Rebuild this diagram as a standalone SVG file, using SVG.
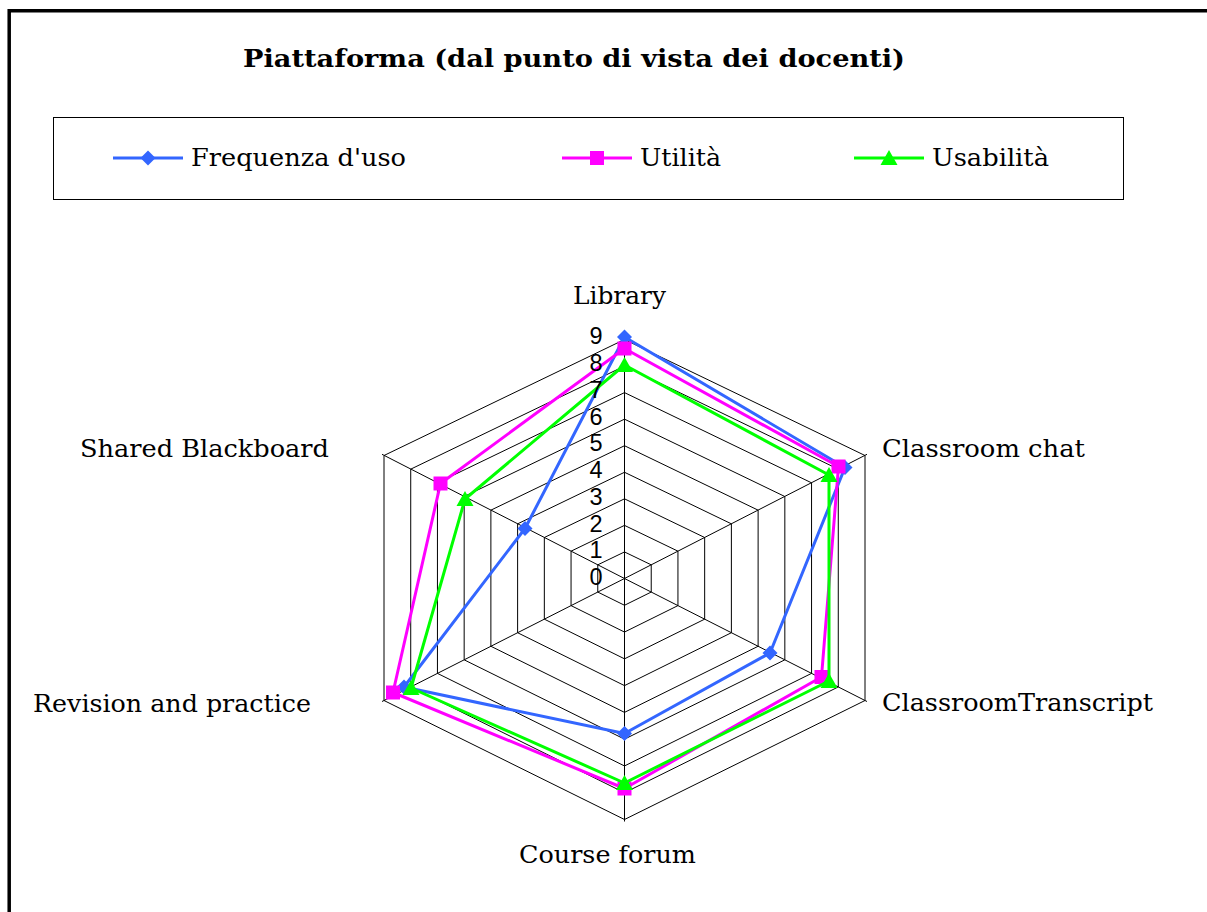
<svg xmlns="http://www.w3.org/2000/svg" xmlns:xlink="http://www.w3.org/1999/xlink" width="1207" height="912" viewBox="0 0 1207 912">
<style>
.ser{font-family:"DejaVu Serif","Liberation Serif",serif;font-size:25px;fill:#000}
.ttl{font-family:"DejaVu Serif","Liberation Serif",serif;font-size:24px;font-weight:bold;fill:#000}
.num{font-family:"Liberation Sans",Arial,sans-serif;font-size:23.5px;fill:#000;text-anchor:end}
.grid{fill:none;stroke:#000;stroke-width:1}
.b{fill:none;stroke:#3366FF;stroke-width:3;stroke-linejoin:round}
.p{fill:none;stroke:#FF00FF;stroke-width:3;stroke-linejoin:round}
.g{fill:none;stroke:#00FF00;stroke-width:3;stroke-linejoin:round}
</style>
<defs>
<path id="dia" d="M0,-7.5 L7.5,0 L0,7.5 L-7.5,0Z" fill="#3366FF"/>
<rect id="sq" x="-7" y="-7" width="14" height="14" fill="#FF00FF"/>
<path id="tri" d="M0,-8 L8.5,7 L-8.5,7Z" fill="#00FF00"/>
</defs>
<rect width="1207" height="912" fill="#fff"/>
<path d="M9.2,912 V10.7 H1207" fill="none" stroke="#000" stroke-width="3.5"/>
<g id="title"><text class="ttl" x="243" y="67" textLength="662" lengthAdjust="spacingAndGlyphs">Piattaforma (dal punto di vista dei docenti)</text></g>
<g id="legend">
<rect x="53.5" y="117.5" width="1070" height="82" fill="#fff" stroke="#000" stroke-width="1"/>
<line x1="113" y1="158" x2="183" y2="158" stroke="#3366FF" stroke-width="3"/>
<use xlink:href="#dia" x="148" y="158"/>
<text class="ser" x="191" y="166" textLength="215" lengthAdjust="spacingAndGlyphs">Frequenza d'uso</text>
<line x1="562" y1="158" x2="632" y2="158" stroke="#FF00FF" stroke-width="3"/>
<use xlink:href="#sq" x="597" y="158"/>
<text class="ser" x="640" y="166" textLength="81" lengthAdjust="spacingAndGlyphs">Utilità</text>
<line x1="854" y1="158" x2="924" y2="158" stroke="#00FF00" stroke-width="3"/>
<use xlink:href="#tri" x="889" y="158"/>
<text class="ser" x="932" y="166" textLength="117" lengthAdjust="spacingAndGlyphs">Usabilità</text>
</g>
<g id="grid">
<polygon class="grid" points="624.5,551.94 651.22,564.83 651.22,592.06 624.5,605.28 597.78,592.06 597.78,564.83"/>
<polygon class="grid" points="624.5,525.39 677.94,551.17 677.94,605.61 624.5,632.06 571.06,605.61 571.06,551.17"/>
<polygon class="grid" points="624.5,498.83 704.67,537.5 704.67,619.17 624.5,658.83 544.33,619.17 544.33,537.5"/>
<polygon class="grid" points="624.5,472.28 731.39,523.83 731.39,632.72 624.5,685.61 517.61,632.72 517.61,523.83"/>
<polygon class="grid" points="624.5,445.72 758.11,510.17 758.11,646.28 624.5,712.39 490.89,646.28 490.89,510.17"/>
<polygon class="grid" points="624.5,419.17 784.83,496.5 784.83,659.83 624.5,739.17 464.17,659.83 464.17,496.5"/>
<polygon class="grid" points="624.5,392.61 811.56,482.83 811.56,673.39 624.5,765.94 437.44,673.39 437.44,482.83"/>
<polygon class="grid" points="624.5,366.06 838.28,469.17 838.28,686.94 624.5,792.72 410.72,686.94 410.72,469.17"/>
<polygon class="grid" points="624.5,339.5 865,455.5 865,700.5 624.5,819.5 384,700.5 384,455.5"/>
<path class="grid" d="M624.5,578.5 L624.5,337.5 M624.5,578.5 L867,454.3 M624.5,578.5 L867,701.5 M624.5,578.5 L624.5,821.5 M624.5,578.5 L382,701.5 M624.5,578.5 L382,454.3"/>
</g>
<g id="axis-labels">
<text class="ser" x="573" y="304" textLength="93" lengthAdjust="spacingAndGlyphs">Library</text>
<text class="ser" x="882" y="457" textLength="203" lengthAdjust="spacingAndGlyphs">Classroom chat</text>
<text class="ser" x="882" y="711" textLength="271" lengthAdjust="spacingAndGlyphs">ClassroomTranscript</text>
<text class="ser" x="519" y="863" textLength="177" lengthAdjust="spacingAndGlyphs">Course forum</text>
<text class="ser" x="33" y="712" textLength="278" lengthAdjust="spacingAndGlyphs">Revision and practice</text>
<text class="ser" x="80" y="457" textLength="249" lengthAdjust="spacingAndGlyphs">Shared Blackboard</text>
</g>
<g id="series-frequenza">
<polygon class="b" points="624.5,337 845,467.5 770,653 624.5,733.5 404,687 525,528.5"/>
<use xlink:href="#dia" x="624.5" y="337"/>
<use xlink:href="#dia" x="845" y="467.5"/>
<use xlink:href="#dia" x="770" y="653"/>
<use xlink:href="#dia" x="624.5" y="733.5"/>
<use xlink:href="#dia" x="404" y="687"/>
<use xlink:href="#dia" x="525" y="528.5"/>
</g>
<g id="series-utilita">
<polygon class="p" points="624.5,348.5 838.5,466.5 821.5,677 624.5,788.5 393,692.5 440.5,483.5"/>
<use xlink:href="#sq" x="624.5" y="348.5"/>
<use xlink:href="#sq" x="838.5" y="466.5"/>
<use xlink:href="#sq" x="821.5" y="677"/>
<use xlink:href="#sq" x="624.5" y="788.5"/>
<use xlink:href="#sq" x="393" y="692.5"/>
<use xlink:href="#sq" x="440.5" y="483.5"/>
</g>
<g id="series-usabilita">
<polygon class="g" points="624.5,365 829,475 829,681 624.5,783 411,688 465,499"/>
<use xlink:href="#tri" x="624.5" y="365"/>
<use xlink:href="#tri" x="829" y="475"/>
<use xlink:href="#tri" x="829" y="681"/>
<use xlink:href="#tri" x="624.5" y="783"/>
<use xlink:href="#tri" x="411" y="688"/>
<use xlink:href="#tri" x="465" y="499"/>
</g>
<g id="scale">
<text class="num" x="602.5" y="585">0</text>
<text class="num" x="602.5" y="558.3">1</text>
<text class="num" x="602.5" y="531.5">2</text>
<text class="num" x="602.5" y="504.8">3</text>
<text class="num" x="602.5" y="478">4</text>
<text class="num" x="602.5" y="451.3">5</text>
<text class="num" x="602.5" y="424.6">6</text>
<text class="num" x="602.5" y="397.8">7</text>
<text class="num" x="602.5" y="371.1">8</text>
<text class="num" x="602.5" y="344.3">9</text>
</g>
</svg>
